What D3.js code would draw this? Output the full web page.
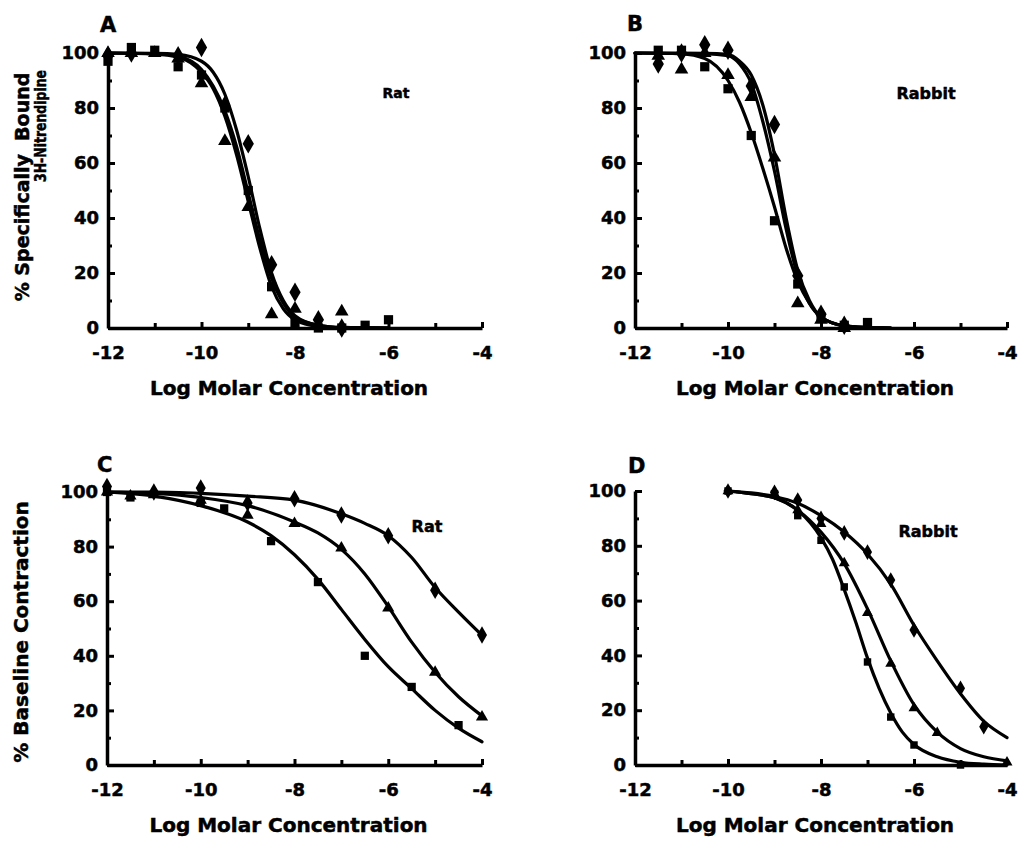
<!DOCTYPE html>
<html>
<head>
<meta charset="utf-8">
<script src="https://cdn.jsdelivr.net/npm/d3@7"></script>
<style>
  body { margin: 0; background: #fff; }
  svg text { font-family: "DejaVu Sans", "Liberation Sans", sans-serif; font-weight: bold; fill: #000; stroke: #000; stroke-width: 0.5px; }
</style>
</head>
<body>
<div id="chart"></div>
<script>
// axis setup
const xDomain = [-12, -4];
const yDomain = [0, 100];
const xTicks = [-12, -10, -8, -6, -4];
const xMinor = [-11, -9, -7, -5];
const yTicks = [0, 20, 40, 60, 80, 100];
const yMinor = [10, 30, 50, 70, 90];

// A: rat, 3H-nitrendipine binding  [log M, %]
const aSquares = [[-12,97],[-11.5,102],[-11,101],[-10.5,95],[-10,92],[-9.5,80],[-9,50],[-8.5,15],[-8,2],[-7.5,0],[-7,0],[-6.5,1],[-6,3]];
const aTriangles = [[-12,100],[-11.5,100],[-11,100],[-10.5,98],[-10,89],[-9.5,68],[-9,44],[-8.5,5],[-8,7],[-7.5,1],[-7,6]];
const aDiamonds = [[-12,99],[-11.5,100],[-10.5,99],[-10,102],[-9.5,81],[-9,67],[-8.5,23],[-8,13],[-7.5,3],[-7,0]];
const aCurveSq = [[-12,100],[-11,99.6],[-10.5,98.5],[-10,93],[-9.75,87],[-9.5,77],[-9.25,63],[-9,46],[-8.75,29],[-8.5,15],[-8.25,7],[-8,3],[-7.5,0.6],[-7,0.1],[-6,0]];
const aCurveTri = [[-12,100],[-11,99.7],[-10.5,98.8],[-10,94],[-9.75,88],[-9.5,79],[-9.25,66],[-9,49],[-8.75,32],[-8.5,18],[-8.25,9],[-8,4],[-7.5,1],[-7,0.2],[-6,0]];
const aCurveDia = [[-12,100],[-11,99.9],[-10.5,99.5],[-10,97],[-9.75,93],[-9.5,85],[-9.25,72],[-9,55],[-8.75,36],[-8.5,20],[-8.25,10],[-8,4.5],[-7.5,1],[-7,0.2],[-6,0]];

// B: rabbit, binding
const bSquares = [[-11.5,101],[-11,101],[-10.5,95],[-10,87],[-9.5,70],[-9,39],[-8.5,16],[-8,4],[-7.5,1],[-7,2]];
const bTriangles = [[-11.5,99],[-11,94],[-10.5,100],[-10,92],[-9.5,84],[-9,62],[-8.5,9],[-8,3],[-7.5,0]];
const bDiamonds = [[-11.5,96],[-11,100],[-10.5,103],[-10,101],[-9.5,88],[-9,74],[-8.5,19],[-8,5],[-7.5,1]];
const bCurveSq = [[-12,100],[-11,99.7],[-10.5,98],[-10,90],[-9.75,82],[-9.5,71],[-9.25,58],[-9,44],[-8.75,29],[-8.5,17],[-8.25,9],[-8,4],[-7.5,0.8],[-7,0.2],[-6.5,0]];
const bCurveTri = [[-12,100],[-10.5,99.8],[-10,99],[-9.75,96],[-9.5,89],[-9.25,75],[-9,57],[-8.75,36],[-8.5,19],[-8.25,9],[-8,4],[-7.5,0.8],[-7,0.2],[-6.5,0]];
const bCurveDia = [[-12,100],[-10.5,99.9],[-10,99.5],[-9.75,97],[-9.5,92],[-9.25,81],[-9,63],[-8.75,40],[-8.5,21],[-8.25,10],[-8,4],[-7.5,0.8],[-7,0.2],[-6.5,0]];

// C: rat, baseline contraction
const cSquares = [[-12,100],[-11.5,98],[-10,96],[-9.5,94],[-8.5,82],[-7.5,67],[-6.5,40],[-5.5,28.6],[-4.5,14.6]];
const cTriangles = [[-12,100],[-11.5,98.5],[-11,99],[-10,97],[-9,91.5],[-8,88.5],[-7,79.5],[-6,57.5],[-5,34],[-4,17.6]];
const cDiamonds = [[-12,102],[-11,100],[-10,101.5],[-9,96],[-8,97.5],[-7,91.6],[-6,84],[-5,64],[-4,47.6]];
const cCurveSq = [[-12,100],[-11,98.5],[-10,95],[-9,89],[-8.5,84],[-8,77],[-7.5,68],[-7,57],[-6.5,46],[-6,36],[-5.5,28],[-5,20],[-4.5,13.5],[-4,8.5]];
const cCurveTri = [[-12,100],[-11,99.5],[-10,98],[-9,95],[-8,89],[-7.5,85],[-7,79],[-6.5,70],[-6,58],[-5.5,45],[-5,34],[-4.5,25],[-4,18]];
const cCurveDia = [[-12,100],[-11,100],[-10,99.5],[-9,98.5],[-8,97],[-7,92],[-6.5,88.5],[-6,84],[-5.5,76],[-5,65],[-4.5,56],[-4,47.5]];

// D: rabbit, baseline contraction
const dSquares = [[-10,100],[-9,99],[-8.5,91],[-8,82],[-7.5,65],[-7,37.6],[-6.5,17.5],[-6,7.3],[-5,0]];
const dTriangles = [[-10,100],[-9,99],[-8.5,93],[-8,88],[-7.5,73.7],[-7,55.5],[-6.5,37],[-6,20.8],[-5.5,11.7],[-4,1]];
const dDiamonds = [[-10,100],[-9,99.5],[-8.5,96.7],[-8,90],[-7.5,84.7],[-7,77.7],[-6.5,67.5],[-6,49.3],[-5,28],[-4.5,14]];
const dCurveSq = [[-10,100],[-9.5,99],[-9,97.5],[-8.5,93],[-8,83],[-7.75,75],[-7.5,64],[-7.25,52],[-7,39],[-6.75,28],[-6.5,19],[-6.25,12],[-6,7.5],[-5.5,3],[-5,1],[-4.5,0.3],[-4,0]];
const dCurveTri = [[-10,100],[-9.5,99],[-9,97.5],[-8.5,93],[-8,85],[-7.5,73.5],[-7,57],[-6.5,38],[-6,22],[-5.5,12],[-5,6],[-4.5,3],[-4,1.5]];
const dCurveDia = [[-10,100],[-9.5,99.3],[-9,98],[-8.5,95.5],[-8,91],[-7.5,85],[-7,77],[-6.5,66],[-6,51],[-5.5,38],[-5,26],[-4.5,16],[-4,10]];

const panels = [
  { letter: "A", species: "Rat", x0: 108, x1: 482, yTop: 53, yBot: 328, lx: 100, ly: 32, sx: 396, sy: 98, sf: 14,
    curves: [aCurveSq, aCurveTri, aCurveDia], sq: aSquares, tri: aTriangles, dia: aDiamonds, ms: 1 },
  { letter: "B", species: "Rabbit", x0: 635, x1: 1007, yTop: 53, yBot: 328, lx: 627, ly: 31, sx: 926, sy: 99, sf: 16,
    curves: [bCurveSq, bCurveTri, bCurveDia], sq: bSquares, tri: bTriangles, dia: bDiamonds, ms: 1 },
  { letter: "C", species: "Rat", x0: 107, x1: 482, yTop: 492, yBot: 765, lx: 97, ly: 472, sx: 427, sy: 532, sf: 16,
    curves: [cCurveSq, cCurveTri, cCurveDia], sq: cSquares, tri: cTriangles, dia: cDiamonds, ms: 0.8 },
  { letter: "D", species: "Rabbit", x0: 635, x1: 1007, yTop: 491, yBot: 765, lx: 628, ly: 473, sx: 928, sy: 537, sf: 16,
    curves: [dCurveSq, dCurveTri, dCurveDia], sq: dSquares, tri: dTriangles, dia: dDiamonds, ms: 0.65 }
];

const svg = d3.select("#chart").append("svg")
  .attr("width", 1019)
  .attr("height", 841);

function drawPanel(p) {
  const x = d3.scaleLinear().domain(xDomain).range([p.x0, p.x1]);
  const y = d3.scaleLinear().domain(yDomain).range([p.yBot, p.yTop]);
  const g = svg.append("g");

  // y axis (ticks inward)
  const yAxis = g.append("g")
    .attr("transform", `translate(${p.x0},0)`)
    .call(d3.axisLeft(y).tickValues(yTicks).tickSizeInner(-7).tickSizeOuter(0).tickPadding(9).tickFormat(d => String(d)));
  g.append("g")
    .attr("transform", `translate(${p.x0},0)`)
    .call(d3.axisLeft(y).tickValues(yMinor).tickSizeInner(-4).tickSizeOuter(0).tickFormat(""))
    .select(".domain").remove();

  // x axis (ticks inward)
  const xAxis = g.append("g")
    .attr("transform", `translate(0,${p.yBot})`)
    .call(d3.axisBottom(x).tickValues(xTicks).tickSizeInner(-6).tickSizeOuter(0).tickFormat(d => String(d)));
  g.append("g")
    .attr("transform", `translate(0,${p.yBot})`)
    .call(d3.axisBottom(x).tickValues(xMinor).tickSizeInner(-5).tickSizeOuter(0).tickFormat(""))
    .select(".domain").remove();

  g.selectAll(".domain").attr("stroke", "#000").attr("stroke-width", 3.5);
  g.selectAll(".tick line").attr("stroke", "#000").attr("stroke-width", 3);
  yAxis.selectAll("text").attr("font-size", 18).attr("font-family", null);
  xAxis.selectAll("text").attr("font-size", 18).attr("font-family", null)
    .attr("dy", null).attr("y", 31);

  // fitted curves
  const line = d3.line()
    .x(d => x(d[0]))
    .y(d => y(d[1]))
    .curve(d3.curveMonotoneX);
  g.selectAll("path.curve")
    .data(p.curves)
    .enter().append("path")
    .attr("class", "curve")
    .attr("d", line)
    .attr("fill", "none")
    .attr("stroke", "#000")
    .attr("stroke-width", 3.2)
    .attr("stroke-linecap", "round");

  // markers
  const sets = [
    { pts: p.sq, type: d3.symbolSquare, size: 85 },
    { pts: p.tri, type: d3.symbolTriangle, size: 80 },
    { pts: p.dia, type: d3.symbolDiamond, size: 110 }
  ];
  sets.forEach(s => {
    g.append("g").selectAll("path")
      .data(s.pts)
      .enter().append("path")
      .attr("transform", d => `translate(${x(d[0])},${y(d[1])})`)
      .attr("d", d3.symbol().type(s.type).size(s.size * p.ms))
      .attr("fill", "#000");
  });

  // labels
  g.append("text")
    .attr("x", p.lx).attr("y", p.ly)
    .attr("font-size", 21)
    .text(p.letter);
  g.append("text")
    .attr("x", p.sx).attr("y", p.sy)
    .attr("text-anchor", "middle")
    .attr("font-size", p.sf)
    .text(p.species);
  g.append("text")
    .attr("x", (p.x0 + p.x1) / 2 - 6)
    .attr("y", p.yBot + 67)
    .attr("text-anchor", "middle")
    .attr("font-size", 20)
    .text("Log Molar Concentration");
}

panels.forEach(drawPanel);

// y axis titles
svg.append("text")
  .attr("transform", "translate(29,187) rotate(-90)")
  .attr("text-anchor", "middle")
  .attr("font-size", 19)
  .text("% Specifically\u00a0\u00a0Bound");
svg.append("text")
  .attr("transform", "translate(46,70) rotate(-90)")
  .attr("text-anchor", "end")
  .attr("font-size", 15)
  .attr("textLength", 112)
  .attr("lengthAdjust", "spacingAndGlyphs")
  .text("3H-Nitrendipine");
svg.append("text")
  .attr("transform", "translate(28,632) rotate(-90)")
  .attr("text-anchor", "middle")
  .attr("font-size", 20)
  .text("% Baseline Contraction");
</script>
</body>
</html>
